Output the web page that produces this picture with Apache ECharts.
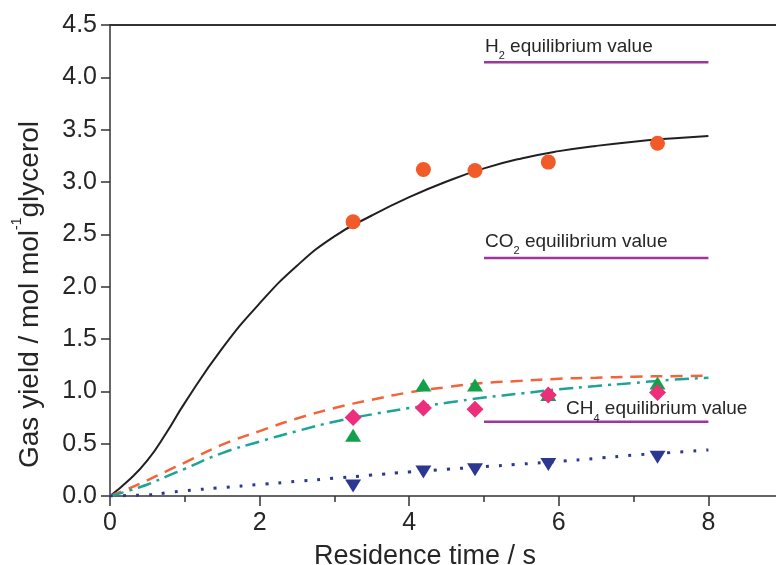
<!DOCTYPE html>
<html><head><meta charset="utf-8">
<script src="https://cdn.jsdelivr.net/npm/echarts@6/dist/echarts.min.js"></script>
<style>html,body{margin:0;padding:0;background:#fff}#c{width:776px;height:565px}</style>
</head><body><div id="c"></div>
<script>
// ---- data ----
const sampleX   = [3.25, 4.19, 4.88, 5.86, 7.32];
const h2Y       = [2.62, 3.12, 3.11, 3.19, 3.37];   // orange circles
const triY      = [0.58, 1.06, 1.06, 0.97, 1.08];   // green triangles
const diamondY  = [0.75, 0.84, 0.83, 0.965, 0.99];  // pink diamonds
const invTriY   = [0.095, 0.23, 0.25, 0.30, 0.37];  // blue inverted triangles

const fitX      = [0, 0.25, 0.5, 0.75, 1, 1.5, 2, 2.5, 3, 3.5, 4, 4.5, 5, 5.5, 6, 6.5, 7, 7.5, 8];
const h2Fit     = [0, 0.15, 0.34, 0.60, 0.89, 1.41, 1.84, 2.20, 2.48, 2.68, 2.855, 3.005, 3.13, 3.225, 3.295, 3.345, 3.385, 3.415, 3.44];
const orangeFit = [0, 0.07, 0.15, 0.235, 0.32, 0.49, 0.62, 0.74, 0.84, 0.92, 0.99, 1.04, 1.08, 1.10, 1.12, 1.13, 1.14, 1.145, 1.15];
const tealFit   = [0, 0.05, 0.11, 0.185, 0.26, 0.41, 0.52, 0.62, 0.71, 0.78, 0.84, 0.89, 0.94, 0.98, 1.02, 1.05, 1.08, 1.11, 1.13];
const blueFit   = [0, 0.005, 0.01, 0.03, 0.05, 0.08, 0.11, 0.14, 0.17, 0.20, 0.23, 0.255, 0.28, 0.305, 0.33, 0.36, 0.39, 0.415, 0.44];

const eqNames   = ['H', 'CO', 'CH'];
const eqSubs    = ['2', '2', '4'];
const eqValues  = [4.145, 2.275, 0.71];
const eqStartX  = 5;
const eqEndX    = 8;

const xTickValues = [0, 2, 4, 6, 8];
const yTickValues = [0, 0.5, 1.0, 1.5, 2.0, 2.5, 3.0, 3.5, 4.0, 4.5];

// ---- helpers ----
const FONT = 'Liberation Sans, Arial, Helvetica, sans-serif';
const TXT = '#262626';
const zip = (xs, ys) => xs.map((x, i) => [x, ys[i]]);
const labelOffsets = [[1, -15.5], [1, -16.5], [82, -12.7]];

function eqSeries(i) {
  return {
    type: 'line', z: 3, silent: true,
    symbol: 'circle', symbolSize: 0, showSymbol: true,
    lineStyle: { color: '#A0359D', width: 2.5 },
    data: [
      { value: [eqStartX, eqValues[i]],
        label: {
          show: true, position: 'right', distance: 0, offset: labelOffsets[i],
          formatter: '{b|' + eqNames[i] + '}{s|' + eqSubs[i] + '}{b| equilibrium value}',
          rich: {
            b: { fontFamily: FONT, fontSize: 19, lineHeight: 30, color: TXT },
            s: { fontFamily: FONT, fontSize: 11, lineHeight: 11, color: TXT, verticalAlign: 'bottom' }
          }
        } },
      [eqEndX, eqValues[i]]
    ]
  };
}

function fitSeries(ys, color, type, width) {
  return {
    type: 'line', z: 2, silent: true, smooth: 0.5, symbol: 'none',
    data: zip(fitX, ys),
    lineStyle: { color: color, width: width, type: type }
  };
}

const chart = echarts.init(document.getElementById('c'), null, { renderer: 'canvas' });
chart.setOption({
  animation: false,
  backgroundColor: '#fff',
  grid: { left: 110, right: -82, top: 25, bottom: 69, containLabel: false, outerBoundsMode: 'none' },
  xAxis: [{
    type: 'value', min: 0, max: 10, interval: 2,
    name: 'Residence time / s', nameLocation: 'middle', nameGap: 41,
    nameTextStyle: { fontFamily: FONT, fontSize: 27, lineHeight: 30, color: TXT, padding: [0, 118, 0, 0] },
    axisLine: { show: true, onZero: false, lineStyle: { color: '#333', width: 1.5 } },
    axisTick: { show: true, inside: false, length: 10, lineStyle: { color: '#333', width: 1.5 } },
    minorTick: { show: true, splitNumber: 2, length: 6, lineStyle: { color: '#333', width: 1.5 } },
    splitLine: { show: false }, minorSplitLine: { show: false },
    axisLabel: {
      show: true, margin: 13, fontFamily: FONT, fontSize: 25, lineHeight: 28, color: TXT,
      hideOverlap: false,
      formatter: v => xTickValues.includes(v) ? String(v) : ''
    }
  }, {
    type: 'value', min: 0, max: 10, position: 'top',
    axisLine: { show: true, onZero: false, lineStyle: { color: '#333', width: 2 } },
    axisTick: { show: false }, axisLabel: { show: false }, splitLine: { show: false }
  }],
  yAxis: {
    type: 'value', min: 0, max: 4.5, interval: 0.5,
    name: '{a|Gas yield / mol mol}{s|-1}{a|glycerol}', nameLocation: 'middle', nameGap: 60, nameRotate: 90,
    nameTextStyle: {
      fontFamily: FONT, fontSize: 28, color: TXT, padding: [0, 68, 0, 0],
      rich: {
        a: { fontFamily: FONT, fontSize: 28, lineHeight: 40, color: TXT },
        s: { fontFamily: FONT, fontSize: 14, lineHeight: 14, color: TXT, verticalAlign: 'top' }
      }
    },
    axisLine: { show: true, onZero: false, lineStyle: { color: '#333', width: 1.5 } },
    axisTick: { show: true, inside: false, length: 9, lineStyle: { color: '#333', width: 1.5 } },
    splitLine: { show: false },
    axisLabel: {
      show: true, margin: 13, fontFamily: FONT, fontSize: 25, color: TXT, hideOverlap: false,
      formatter: v => yTickValues.some(t => Math.abs(t - v) < 1e-9) ? v.toFixed(1) : ''
    }
  },
  series: [
    fitSeries(h2Fit, '#231F20', 'solid', 2),
    fitSeries(orangeFit, '#F2643A', [12, 8], 2.5),
    fitSeries(tealFit, '#1CA597', [14, 6, 3, 6], 2.5),
    fitSeries(blueFit, '#2B3790', [3, 10], 3),
    eqSeries(0), eqSeries(1), eqSeries(2),
    { type: 'scatter', z: 4, symbol: 'circle', symbolSize: 15, itemStyle: { color: '#F15A29', opacity: 1 }, data: zip(sampleX, h2Y) },
    { type: 'scatter', z: 4, symbol: 'triangle', symbolSize: [16, 13], itemStyle: { color: '#12A04B', opacity: 1 }, data: zip(sampleX, triY) },
    { type: 'scatter', z: 5, symbol: 'diamond', symbolSize: [17, 17], itemStyle: { color: '#EC2E7B', opacity: 1 }, data: zip(sampleX, diamondY) },
    { type: 'scatter', z: 4, symbol: 'triangle', symbolRotate: 180, symbolSize: [16, 13], itemStyle: { color: '#2B3790', opacity: 1 }, data: zip(sampleX, invTriY) }
  ]
});
</script>
</body></html>
